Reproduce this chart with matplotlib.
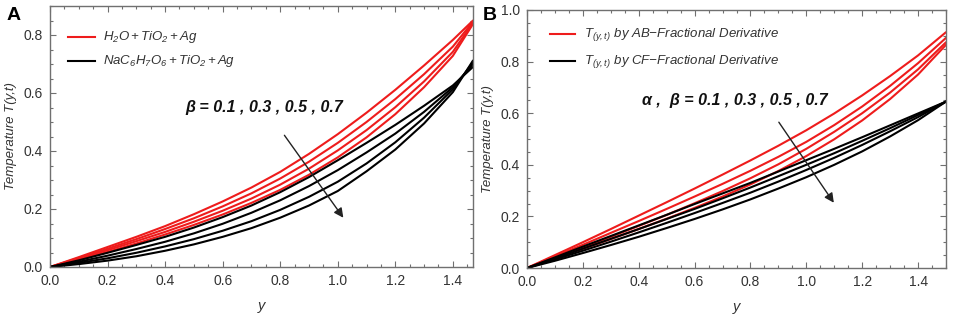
import matplotlib
matplotlib.use("Agg")
import matplotlib.pyplot as plt
from matplotlib.ticker import MultipleLocator, FormatStrFormatter

plt.rcParams['font.family'] = ['Liberation Sans', 'DejaVu Sans']
plt.rcParams['mathtext.fontset'] = 'custom'
plt.rcParams['mathtext.it'] = 'Liberation Sans:italic'
plt.rcParams['mathtext.rm'] = 'Liberation Sans:italic'

# ---------------- Panel A data ----------------
x_a = [0.0, 0.1, 0.2, 0.3, 0.4, 0.5, 0.6, 0.7, 0.8, 0.9, 1.0, 1.1, 1.2, 1.3, 1.4, 1.47]
red_a_b01 = [0, .034, .069, .104, .141, .182, .226, .274, .328, .390, .458, .532, .611, .695, .783, .850]
red_a_b03 = [0, .031, .063, .096, .131, .168, .209, .254, .305, .363, .428, .500, .579, .665, .760, .846]
red_a_b05 = [0, .028, .058, .089, .121, .156, .194, .236, .284, .339, .402, .472, .551, .640, .742, .842]
red_a_b07 = [0, .025, .052, .081, .112, .145, .181, .221, .266, .318, .378, .447, .527, .620, .728, .838]
blk_a_b01 = [0, .023, .049, .076, .104, .136, .172, .212, .258, .310, .368, .428, .490, .556, .626, .690]
blk_a_b03 = [0, .018, .039, .062, .087, .116, .149, .187, .230, .279, .334, .395, .460, .535, .620, .700]
blk_a_b05 = [0, .014, .030, .049, .071, .096, .125, .158, .197, .242, .294, .357, .430, .515, .613, .706]
blk_a_b07 = [0, .010, .022, .037, .056, .078, .104, .134, .170, .212, .262, .330, .405, .495, .603, .712]

# ---------------- Panel B data ----------------
x_b = [0.0, 0.1, 0.2, 0.3, 0.4, 0.5, 0.6, 0.7, 0.8, 0.9, 1.0, 1.1, 1.2, 1.3, 1.4, 1.5]
red_b_01 = [0, .050, .100, .151, .203, .255, .308, .362, .417, .474, .534, .599, .669, .744, .824, .914]
red_b_03 = [0, .045, .090, .136, .182, .229, .277, .326, .377, .431, .489, .554, .626, .706, .794, .892]
red_b_05 = [0, .040, .080, .121, .163, .206, .251, .298, .348, .402, .462, .528, .600, .680, .770, .875]
red_b_07 = [0, .037, .074, .112, .151, .191, .233, .277, .324, .376, .434, .499, .572, .655, .750, .865]
blk_b_01 = [0, .041, .083, .124, .165, .206, .248, .289, .330, .374, .418, .462, .507, .553, .599, .645]
blk_b_03 = [0, .037, .075, .113, .151, .190, .229, .270, .312, .356, .400, .445, .493, .542, .593, .645]
blk_b_05 = [0, .033, .067, .102, .138, .175, .213, .252, .292, .335, .380, .427, .477, .530, .585, .645]
blk_b_07 = [0, .028, .058, .089, .121, .155, .190, .227, .266, .308, .352, .400, .452, .510, .573, .645]

legend_a = [r"$H_2O+TiO_2+Ag$", r"$NaC_6H_7O_6+TiO_2+Ag$"]
legend_b = [r"$T_{(y,t)}$ by AB$-$Fractional Derivative", r"$T_{(y,t)}$ by CF$-$Fractional Derivative"]
annot_a = "\u03b2 = 0.1 , 0.3 , 0.5 , 0.7"
annot_b = "\u03b1 ,  \u03b2 = 0.1 , 0.3 , 0.5 , 0.7"

W, H = 955, 318
fig = plt.figure(figsize=(W / 100, H / 100), dpi=100)

RED = '#ee1c1c'
FRAME = '#707070'
TXT = '#333333'


def style(ax, xmax, ymax):
    ax.set_xlim(0, xmax)
    ax.set_ylim(0, ymax)
    ax.xaxis.set_major_locator(MultipleLocator(0.2))
    ax.xaxis.set_minor_locator(MultipleLocator(0.05))
    ax.yaxis.set_major_locator(MultipleLocator(0.2))
    ax.yaxis.set_minor_locator(MultipleLocator(0.05))
    ax.tick_params(which='both', direction='in', top=True, right=True,
                   color=FRAME, labelcolor=TXT, labelsize=10, width=0.8)
    ax.tick_params(which='major', length=4, pad=5)
    ax.tick_params(which='minor', length=2.2)
    ax.xaxis.set_major_formatter(FormatStrFormatter('%.1f'))
    ax.yaxis.set_major_formatter(FormatStrFormatter('%.1f'))
    for s in ax.spines.values():
        s.set_color(FRAME)
        s.set_linewidth(1.0)
    ax.set_xlabel('y', style='italic', fontsize=10.5, color=TXT, labelpad=8)
    ax.set_ylabel('Temperature T(y,t)', style='italic', fontsize=9.5, color=TXT, labelpad=5)


# Panel A
axA = fig.add_axes([50 / W, (H - 267) / H, 423 / W, 261 / H])
style(axA, 1.47, 0.9)
for ys in [red_a_b01, red_a_b03, red_a_b05, red_a_b07]:
    axA.plot(x_a, ys, color=RED, lw=1.5, solid_capstyle='round', solid_joinstyle='round')
for ys in [blk_a_b01, blk_a_b03, blk_a_b05, blk_a_b07]:
    axA.plot(x_a, ys, color='black', lw=1.5, solid_capstyle='round', solid_joinstyle='round')
axA.annotate('', xy=(1.025, 0.162), xytext=(0.809, 0.462),
             arrowprops=dict(arrowstyle='-|>', color='#222222', lw=1.0,
                             mutation_scale=14))
axA.text(0.47, 0.535, annot_a, fontsize=11.5, fontweight='bold', style='italic', color='#111111')
axA.plot([0.063, 0.157], [0.792, 0.792], color=RED, lw=1.5)
axA.plot([0.063, 0.157], [0.710, 0.710], color='black', lw=1.5)
axA.text(0.185, 0.792, legend_a[0], fontsize=9.5, color=TXT, va='center', style='italic')
axA.text(0.185, 0.710, legend_a[1], fontsize=9.5, color=TXT, va='center', style='italic')
fig.text(7 / W, 1 - 20 / H, 'A', fontsize=14, fontweight='bold')

# Panel B
axB = fig.add_axes([527 / W, (H - 268) / H, 419 / W, 258 / H])
style(axB, 1.5, 1.0)
for ys in [red_b_01, red_b_03, red_b_05, red_b_07]:
    axB.plot(x_b, ys, color=RED, lw=1.5, solid_capstyle='round', solid_joinstyle='round')
for ys in [blk_b_01, blk_b_03, blk_b_05, blk_b_07]:
    axB.plot(x_b, ys, color='black', lw=1.5, solid_capstyle='round', solid_joinstyle='round')
axB.annotate('', xy=(1.104, 0.244), xytext=(0.896, 0.574),
             arrowprops=dict(arrowstyle='-|>', color='#222222', lw=1.0,
                             mutation_scale=14))
axB.text(0.41, 0.63, annot_b, fontsize=11.5, fontweight='bold', style='italic', color='#111111')
axB.plot([0.083, 0.172], [0.906, 0.906], color=RED, lw=1.5)
axB.plot([0.083, 0.172], [0.802, 0.802], color='black', lw=1.5)
axB.text(0.205, 0.906, legend_b[0], fontsize=9.5, color=TXT, va='center', style='italic')
axB.text(0.205, 0.802, legend_b[1], fontsize=9.5, color=TXT, va='center', style='italic')
fig.text(483 / W, 1 - 20 / H, 'B', fontsize=14, fontweight='bold')

fig.savefig('out.png', dpi=100)
